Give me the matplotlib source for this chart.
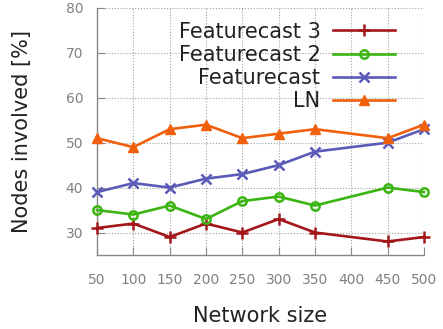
import matplotlib
matplotlib.use("Agg")
import matplotlib.pyplot as plt

network_size = [50, 100, 150, 200, 250, 300, 350, 450, 500]
x_ticks = [50, 100, 150, 200, 250, 300, 350, 400, 450, 500]
y_ticks = [30, 40, 50, 60, 70, 80]

featurecast3 = [31, 32, 29, 32, 30, 33, 30, 28, 29]
featurecast2 = [35, 34, 36, 33, 37, 38, 36, 40, 39]
featurecast = [39, 41, 40, 42, 43, 45, 48, 50, 53]
ln = [51, 49, 53, 54, 51, 52, 53, 51, 54]

fig = plt.figure(figsize=(4.43, 3.29), dpi=100)
ax = fig.add_axes([0.219, 0.225, 0.738, 0.751])

lw = 1.9
ax.plot(network_size, featurecast3, color="#a3171a", lw=lw, marker="+", ms=8, mew=1.8,
        label="Featurecast 3", clip_on=False, zorder=5)
ax.plot(network_size, featurecast2, color="#3bb512", lw=lw, marker="o", ms=6, mew=1.8,
        mfc="none", label="Featurecast 2", clip_on=False, zorder=5)
ax.plot(network_size, featurecast, color="#5a5ab8", lw=lw, marker="x", ms=7, mew=1.8,
        label="Featurecast", clip_on=False, zorder=5)
ax.plot(network_size, ln, color="#f0600c", lw=lw, marker="^", ms=7.5,
        label="LN", clip_on=False, zorder=5)

ax.set_xlim(50, 500)
ax.set_ylim(25, 80)
ax.set_xticks(x_ticks)
ax.set_yticks(y_ticks)

for s in ("top", "right"):
    ax.spines[s].set_visible(False)
for s in ("left", "bottom"):
    ax.spines[s].set_color("#888888")
    ax.spines[s].set_linewidth(1.0)

ax.grid(True, linestyle=(0, (1, 1.6)), color="#a0a0a0", linewidth=0.8)
ax.tick_params(direction="in", length=6, color="#888888", labelcolor="#808080",
               labelsize=10)
ax.tick_params(axis="x", pad=13)
ax.tick_params(axis="y", pad=10)

ax.set_xlabel("Network size", fontsize=15, color="#222222", labelpad=14)
ax.set_ylabel("Nodes involved [%]", fontsize=15, color="#222222", labelpad=24)

leg = ax.legend(loc="upper right", bbox_to_anchor=(0.97, 1.02), frameon=False,
                markerfirst=False, fontsize=15, handlelength=3.0,
                labelspacing=0.15, handletextpad=0.6)
for t in leg.get_texts():
    t.set_ha("right")
    t.set_color("#222222")

fig.savefig("out.png", dpi=100)
